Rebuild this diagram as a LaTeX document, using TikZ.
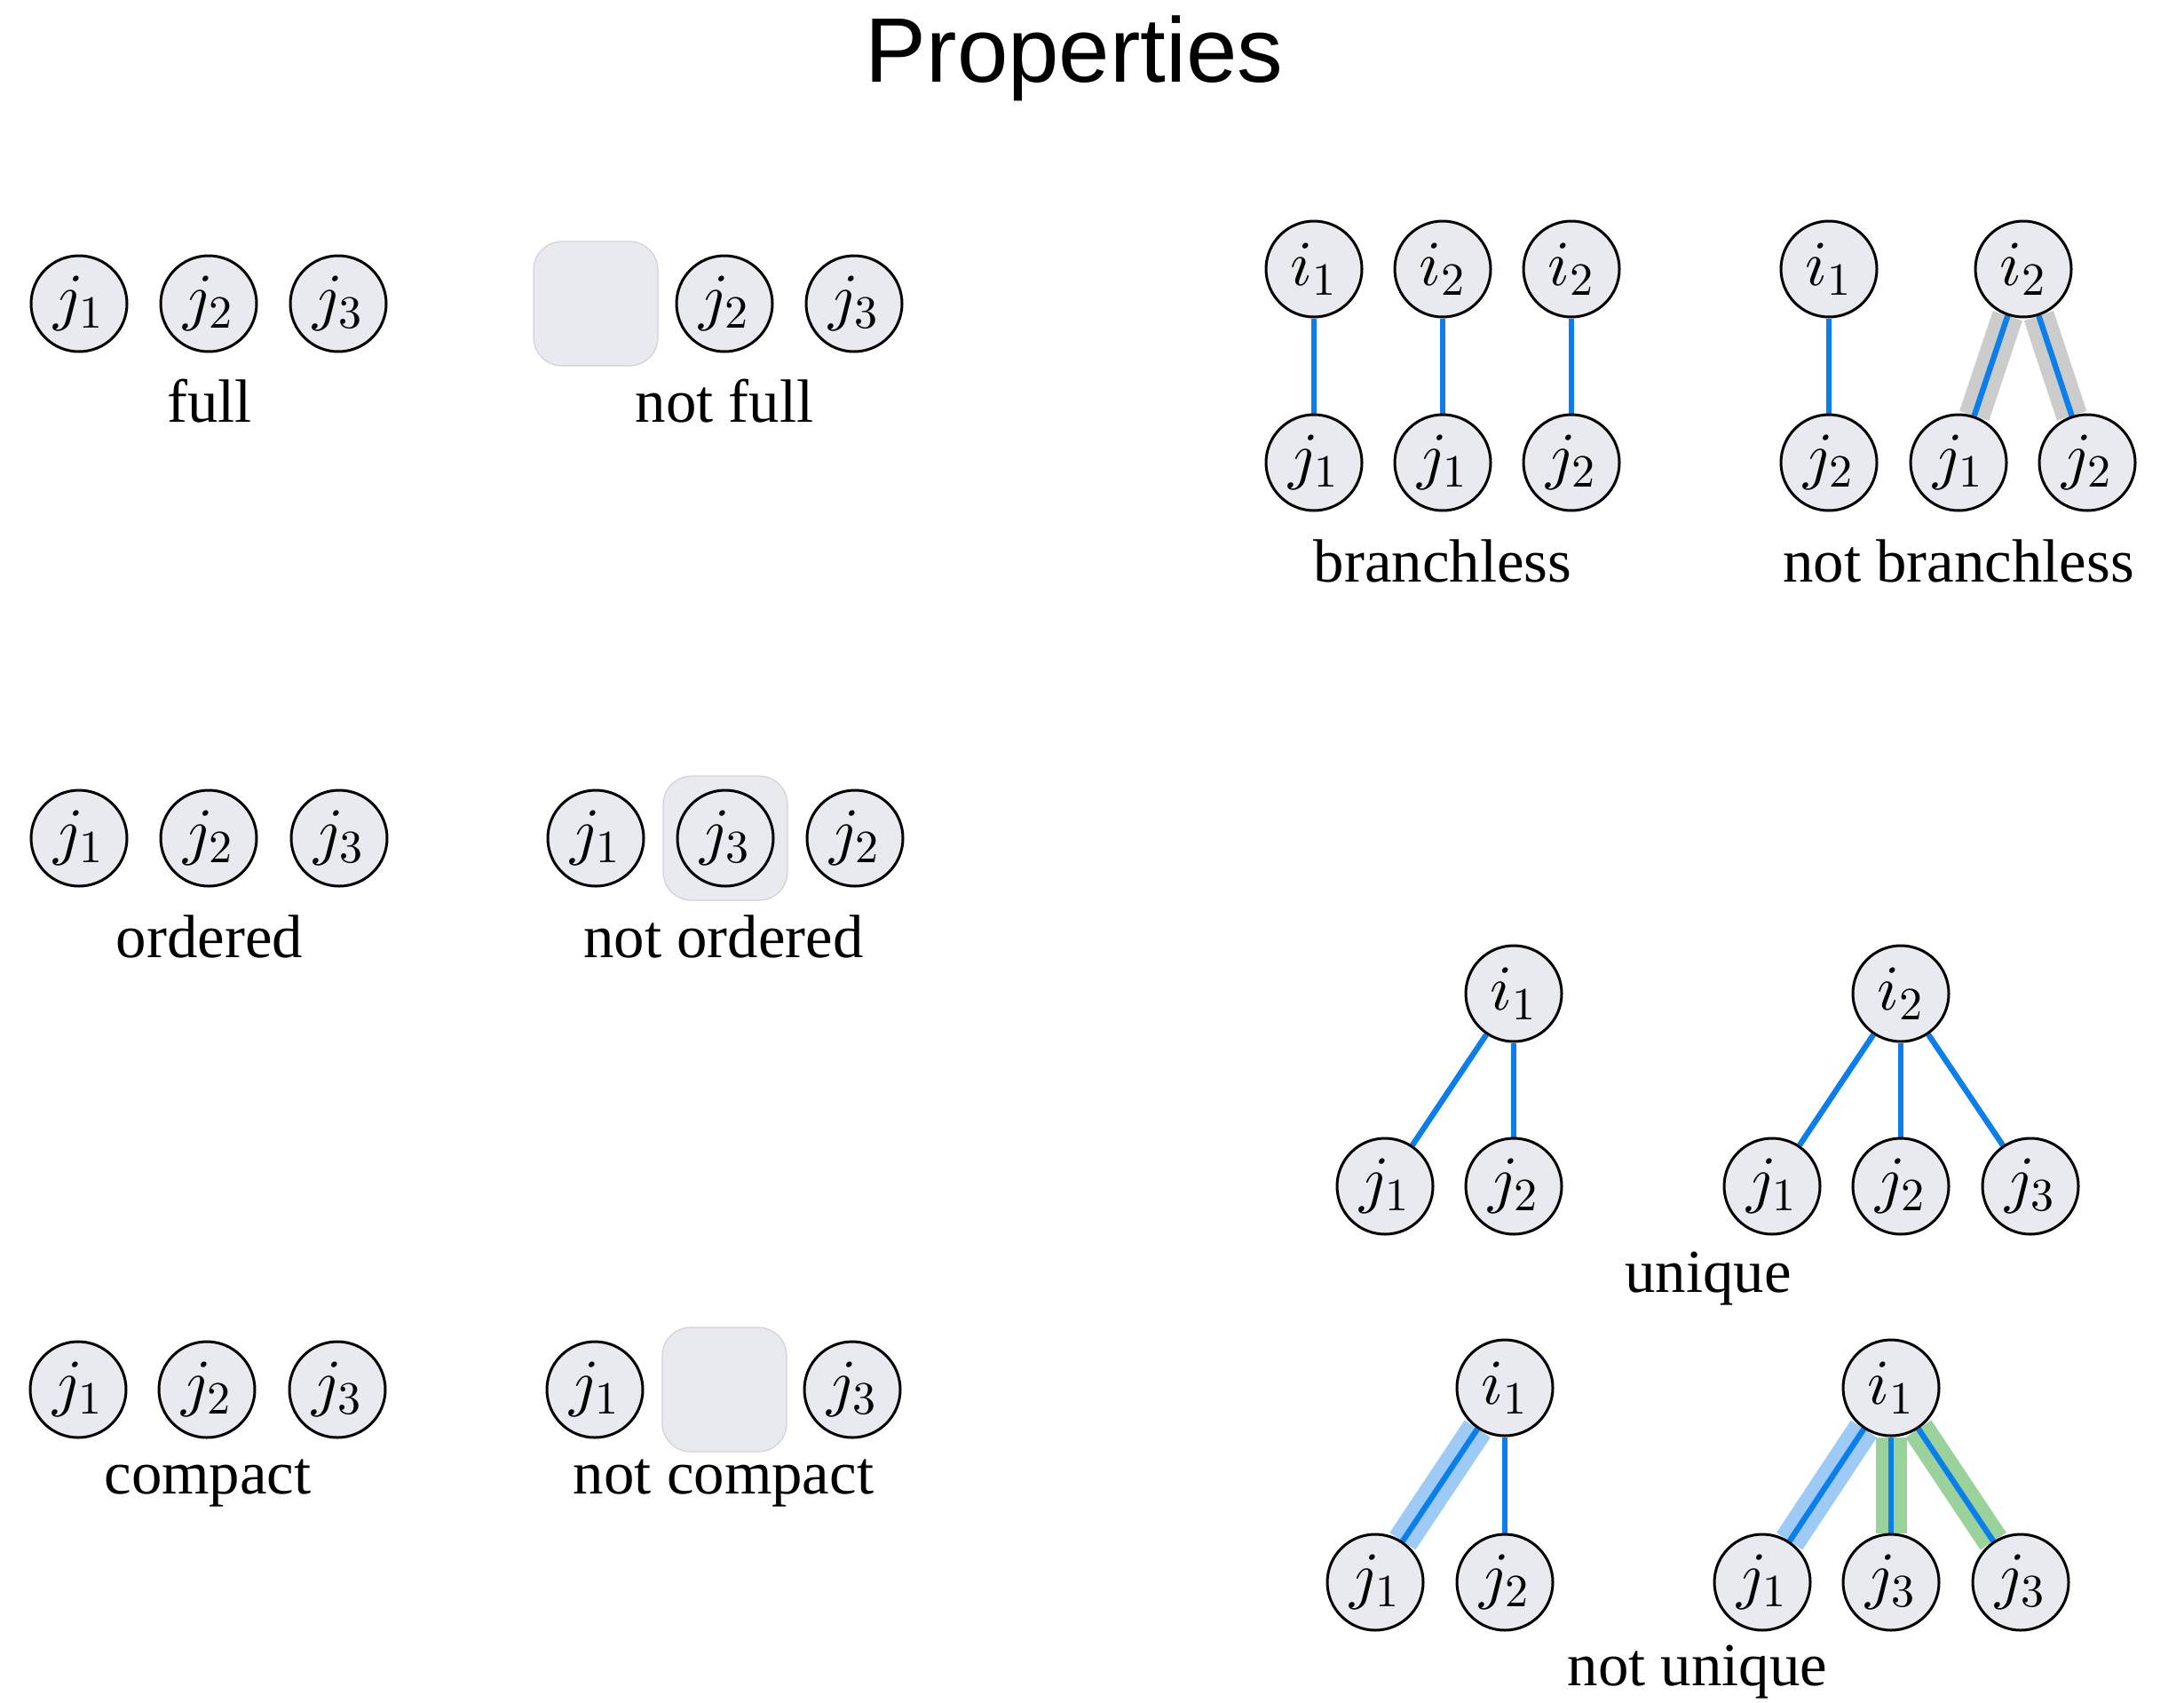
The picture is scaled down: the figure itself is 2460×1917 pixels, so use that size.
\documentclass[tikz,border=0pt]{standalone}
\usepackage{fontspec}
\setmainfont{Liberation Serif}
\newfontfamily\titlefont{Liberation Sans}
\DeclareFontShape{OML}{cmm}{m}{it}{<->cmmi10}{}
\DeclareFontShape{OMS}{cmsy}{m}{n}{<->cmsy10}{}
\DeclareFontShape{OT1}{cmr}{m}{n}{<->cmr10}{}
\DeclareMathSizes{18}{18}{13}{10}
\usetikzlibrary{backgrounds}
\definecolor{nodefill}{HTML}{E9EAEF}
\definecolor{boxfill}{HTML}{E9EAEF}
\definecolor{boxline}{HTML}{D2D2D6}
\definecolor{edgeblue}{HTML}{0A7FEB}
\definecolor{haloblue}{HTML}{9DCBF6}
\definecolor{halogreen}{HTML}{9BD29B}
\definecolor{halogray}{HTML}{CCCCCC}
\tikzset{
  vert/.style={circle, draw=black, line width=0.75pt, fill=nodefill,
    minimum size=27pt, inner sep=0pt, font=\fontsize{18pt}{20pt}\selectfont},
  slot/.style={rounded corners=8pt, fill=boxfill, draw=boxline, line width=0.3pt,
    minimum size=35pt, inner sep=0pt},
  edge/.style={draw=edgeblue, line width=1.6pt},
  halo/.style={preaction={draw=#1, line width=8.75pt}},
  lbl/.style={anchor=base, inner sep=0pt, font=\fontsize{17.2pt}{20pt}\selectfont},
  ttl/.style={anchor=base, inner sep=0pt, font=\titlefont\fontsize{25.8pt}{30pt}\selectfont},
}
\begin{document}
\begin{tikzpicture}[x=0.25pt, y=-0.25pt]
\useasboundingbox (0,0) rectangle (2460,1917);
\node[ttl] (title) at (1210,92) {Properties};

% ---- full / not full
\node[vert] (fa1) at (89,342) {$j_1$};
\node[vert] (fa2) at (235,342) {$j_2$};
\node[vert] (fa3) at (381,342) {$j_3$};
\node[lbl] (lfull) at (236,475) {full};
\node[slot] (fbox) at (671,342) {};
\node[vert] (fb2) at (816,342) {$j_2$};
\node[vert] (fb3) at (962,342) {$j_3$};
\node[lbl] (lnfull) at (816,475) {not full};

% ---- ordered / not ordered
\node[vert] (oa1) at (89,944) {$j_1$};
\node[vert] (oa2) at (235,944) {$j_2$};
\node[vert] (oa3) at (382,944) {$j_3$};
\node[lbl] (lord) at (236,1078) {ordered};
\node[vert] (ob1) at (671,944) {$j_1$};
\node[slot] (obox) at (817,944) {};
\node[vert] (ob3) at (817,944) {$j_3$};
\node[vert] (ob2) at (963,944) {$j_2$};
\node[lbl] (lnord) at (815,1078) {not ordered};

% ---- compact / not compact
\node[vert] (ca1) at (88,1565) {$j_1$};
\node[vert] (ca2) at (233,1565) {$j_2$};
\node[vert] (ca3) at (380,1565) {$j_3$};
\node[lbl] (lcomp) at (234,1682) {compact};
\node[vert] (cb1) at (670,1565) {$j_1$};
\node[slot] (cbox) at (816,1565) {};
\node[vert] (cb3) at (960,1565) {$j_3$};
\node[lbl] (lncomp) at (815,1682) {not compact};

% ---- branchless
\node[vert] (ba1) at (1480,303) {$i_1$};
\node[vert] (ba2) at (1625,303) {$i_2$};
\node[vert] (ba3) at (1770,303) {$i_2$};
\node[vert] (bb1) at (1480,521) {$j_1$};
\node[vert] (bb2) at (1625,521) {$j_1$};
\node[vert] (bb3) at (1770,521) {$j_2$};
\node[lbl] (lbr) at (1625,655) {branchless};

% ---- not branchless
\node[vert] (na1) at (2060,303) {$i_1$};
\node[vert] (na2) at (2279,303) {$i_2$};
\node[vert] (nb1) at (2060,521) {$j_2$};
\node[vert] (nb2) at (2206,521) {$j_1$};
\node[vert] (nb3) at (2351,521) {$j_2$};
\node[lbl] (lnbr) at (2206,655) {not branchless};

% ---- unique
\node[vert] (ua) at (1705,1119) {$i_1$};
\node[vert] (ua1) at (1560,1336) {$j_1$};
\node[vert] (ua2) at (1705,1336) {$j_2$};
\node[vert] (ub) at (2141,1119) {$i_2$};
\node[vert] (ub1) at (1996,1336) {$j_1$};
\node[vert] (ub2) at (2141,1336) {$j_2$};
\node[vert] (ub3) at (2287,1336) {$j_3$};
\node[lbl] (luni) at (1924,1455) {unique};

% ---- not unique
\node[vert] (va) at (1695,1563) {$i_1$};
\node[vert] (va1) at (1549,1782) {$j_1$};
\node[vert] (va2) at (1695,1782) {$j_2$};
\node[vert] (vb) at (2130,1563) {$i_1$};
\node[vert] (vb1) at (1985,1782) {$j_1$};
\node[vert] (vb2) at (2130,1782) {$j_3$};
\node[vert] (vb3) at (2276,1782) {$j_3$};
\node[lbl] (lnuni) at (1912,1898) {not unique};

\begin{pgfonlayer}{background}
  \draw[edge] (ba1) -- (bb1);
  \draw[edge] (ba2) -- (bb2);
  \draw[edge] (ba3) -- (bb3);
  \draw[edge] (na1) -- (nb1);
  \draw[edge, halo=halogray] (na2) -- (nb2);
  \draw[edge, halo=halogray] (na2) -- (nb3);
  \draw[edge] (ua) -- (ua1);
  \draw[edge] (ua) -- (ua2);
  \draw[edge] (ub) -- (ub1);
  \draw[edge] (ub) -- (ub2);
  \draw[edge] (ub) -- (ub3);
  \draw[edge, halo=haloblue] (va) -- (va1);
  \draw[edge] (va) -- (va2);
  \draw[edge, halo=haloblue] (vb) -- (vb1);
  \draw[edge, halo=halogreen] (vb) -- (vb2);
  \draw[edge, halo=halogreen] (vb) -- (vb3);
\end{pgfonlayer}
\end{tikzpicture}
\end{document}
